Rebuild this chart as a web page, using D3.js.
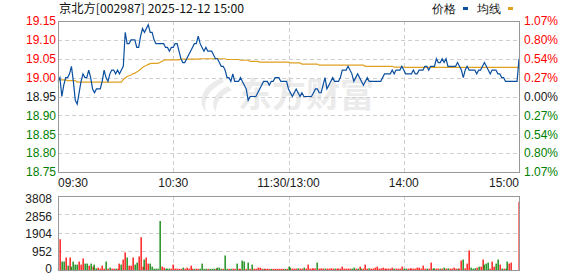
<!DOCTYPE html>
<html>
<head>
<meta charset="utf-8">
<title>京北方 分时图</title>
<script src="https://d3js.org/d3.v7.min.js"></script>
<style>
  body { margin: 0; background: #fff; }
  svg text { font-family: "Liberation Sans", Arial, sans-serif; font-size: 12px; }
</style>
</head>
<body>
<svg width="578" height="276"></svg>
<script>
var title = "京北方[002987] 2025-12-12 15:00";
var preClose = 18.95;

var priceTicks = [19.15, 19.10, 19.05, 19.00, 18.95, 18.90, 18.85, 18.80, 18.75];
var pctLabels = ["1.07%", "0.80%", "0.54%", "0.27%", "0.00%", "0.27%", "0.54%", "0.80%", "1.07%"];
var volTicks = [0, 952, 1904, 2856, 3808];
var timeLabels = ["09:30", "10:30", "11:30/13:00", "14:00", "15:00"];
var timeIndex = [0, 60, 120, 180, 240];

// one value per minute, 09:30 .. 11:30, 13:01 .. 15:00
var price = [
  18.99,19.00,18.95,18.98,19.00,19.00,19.01,19.03,18.99,18.94, 18.93,18.96,18.99,19.01,19.00,19.00,19.02,19.00,18.97,18.96,
  18.97,18.97,18.97,18.99,19.02,19.00,18.99,19.01,19.02,19.02, 19.01,19.02,19.01,19.02,19.03,19.12,19.09,19.09,19.10,19.10,
  19.10,19.08,19.08,19.11,19.13,19.12,19.13,19.14,19.12,19.12, 19.10,19.09,19.09,19.09,19.09,19.09,19.08,19.08,19.07,19.08,
  19.08,19.09,19.09,19.07,19.05,19.04,19.04,19.05,19.06,19.07, 19.08,19.09,19.09,19.11,19.09,19.08,19.07,19.08,19.07,19.07,
  19.07,19.06,19.05,19.05,19.04,19.03,19.03,19.02,19.00,19.00, 18.99,19.01,18.99,18.99,18.99,19.00,18.99,18.98,18.97,18.94,
  18.95,18.95,18.95,18.95,18.96,18.97,18.98,18.99,18.99,18.99, 18.98,18.99,18.99,19.00,19.00,19.00,18.99,18.99,18.99,18.99,
  18.97,18.96,18.95,18.96,18.97,18.96,18.95,18.96,18.95,18.95, 18.95,18.95,18.95,18.96,18.97,18.97,18.96,18.96,18.98,19.00,
  18.97,18.98,18.99,19.00,18.99,18.99,18.99,19.00,19.02,19.02, 19.02,19.03,19.02,19.01,18.99,19.00,19.01,19.00,18.99,18.98,
  18.99,19.00,18.99,18.99,18.99,18.99,18.99,18.99,18.99,19.00, 19.01,19.01,19.01,19.01,19.02,19.01,19.02,19.02,19.02,19.03,
  19.02,19.01,19.01,19.01,19.01,19.02,19.01,19.01,19.02,19.02, 19.02,19.03,19.03,19.02,19.03,19.03,19.03,19.05,19.04,19.04,
  19.05,19.04,19.05,19.03,19.03,19.03,19.03,19.03,19.04,19.03, 19.02,19.00,19.02,19.03,19.02,19.02,19.02,19.02,19.01,19.02,
  19.02,19.03,19.04,19.03,19.02,19.01,19.02,19.02,19.02,19.01, 19.01,19.00,19.00,18.99,18.99,18.99,18.99,18.99,18.99,18.99,
  19.05
];

var avgPrice = [
  18.996,18.994,18.994,18.994,18.994,18.992,18.992,18.992,18.992,18.992, 18.988,18.988,18.988,18.988,18.988,18.988,18.988,18.988,18.988,18.988,
  18.988,18.988,18.988,18.988,18.988,18.988,18.988,18.988,18.988,18.988, 18.988,18.988,18.988,18.988,18.995,18.999,19.003,19.005,19.007,19.010,
  19.012,19.015,19.018,19.022,19.027,19.030,19.032,19.035,19.037,19.038, 19.038,19.038,19.038,19.040,19.043,19.046,19.047,19.047,19.047,19.047,
  19.047,19.047,19.047,19.047,19.049,19.049,19.049,19.049,19.049,19.049, 19.049,19.049,19.049,19.049,19.050,19.050,19.050,19.050,19.050,19.050,
  19.050,19.050,19.050,19.050,19.050,19.050,19.050,19.050,19.048,19.048, 19.048,19.048,19.048,19.048,19.048,19.046,19.046,19.046,19.046,19.046,
  19.043,19.043,19.043,19.043,19.043,19.041,19.041,19.041,19.041,19.041, 19.041,19.041,19.041,19.041,19.041,19.041,19.041,19.041,19.041,19.041,
  19.041,19.039,19.039,19.039,19.039,19.039,19.039,19.036,19.036,19.036, 19.036,19.036,19.036,19.036,19.036,19.036,19.033,19.033,19.033,19.033,
  19.033,19.033,19.033,19.033,19.033,19.033,19.033,19.033,19.033,19.033, 19.033,19.033,19.033,19.033,19.033,19.033,19.033,19.033,19.033,19.033,
  19.030,19.030,19.030,19.030,19.030,19.030,19.030,19.030,19.030,19.030, 19.030,19.030,19.030,19.030,19.030,19.028,19.028,19.028,19.028,19.028,
  19.028,19.027,19.027,19.027,19.027,19.027,19.027,19.027,19.027,19.027, 19.027,19.027,19.027,19.027,19.027,19.027,19.027,19.027,19.027,19.027,
  19.027,19.027,19.027,19.027,19.027,19.027,19.027,19.027,19.027,19.027, 19.027,19.027,19.027,19.027,19.027,19.027,19.027,19.027,19.027,19.027,
  19.027,19.027,19.027,19.027,19.027,19.027,19.027,19.027,19.027,19.027, 19.027,19.027,19.027,19.027,19.027,19.027,19.027,19.027,19.027,19.027,
  19.027
];

var volume = [
  0,1551,388,388,600,176,600,123,388,229, 229,388,229,547,282,282,176,282,123,229,
  35,70,18,176,18,388,18,70,18,18, 18,18,282,229,494,864,600,176,176,600,
  229,335,653,1657,123,494,600,282,282,123, 18,18,18,2504,123,70,18,18,18,18,
  229,18,18,10,10,70,18,70,18,176, 18,10,18,10,18,282,10,10,10,10,
  10,18,10,70,70,10,10,705,10,10, 10,18,10,282,10,10,441,388,10,335,
  10,229,18,10,70,70,18,10,10,18, 10,10,10,10,10,10,10,10,10,10,
  123,70,20,20,20,35,20,20,70,20, 229,20,20,35,35,335,20,35,20,20,
  20,20,35,20,20,20,20,20,123,20, 20,20,20,20,70,20,20,123,20,20,
  229,20,35,20,20,70,123,20,35,70, 20,20,20,20,70,20,20,20,20,123,
  20,20,20,20,35,20,20,70,70,20, 176,20,20,20,335,20,35,20,20,20,
  20,70,20,35,20,20,70,20,20,20, 440,494,35,282,970,70,20,35,70,123,
  123,494,229,282,335,20,388,123,282,494, 229,20,20,20,388,282,335,0,0,0,
  3500
];

// 1 = price up that minute (red), 0 = down (green)
var volUp = [
  1,1,0,0,1,0,1,0,0,0, 0,1,1,1,0,0,1,0,1,0,
  0,1,1,1,1,0,1,0,1,1, 0,1,1,0,1,1,0,1,1,1,
  0,0,1,1,1,0,1,1,0,0, 0,0,0,0,1,1,0,0,0,1,
  1,1,1,1,1,0,1,1,1,1, 1,0,1,1,0,0,0,0,1,0,
  0,0,1,0,0,0,1,0,0,1, 0,1,1,0,1,1,0,0,1,0,
  1,0,1,1,1,1,1,0,1,1, 1,0,1,1,1,1,1,1,0,1,
  0,0,1,1,1,0,1,1,0,1, 1,1,1,1,1,0,1,1,1,0,
  1,1,1,1,0,1,1,1,1,1, 1,1,1,0,0,1,0,1,0,1,
  1,1,0,1,1,1,1,1,1,1, 1,1,1,1,1,0,1,1,1,1,
  0,0,1,1,1,1,1,1,1,1, 1,1,0,1,1,0,0,1,1,0,
  1,0,1,0,1,1,1,1,0,1, 1,0,1,1,1,0,0,0,1,0,
  1,1,0,0,0,1,1,1,0,0, 1,0,1,0,0,1,1,1,1,1,
  1
];

var red = "#ff0000", green = "#008000", dark = "#1a1a1a";
var gridColor = "#cfcfcf", borderColor = "#989898";

var svg = d3.select("svg");
var pLeft = 58, pRight = 519, pTop = 21, pBottom = 172;
var vTop = 196, vBottom = 270;

var x = d3.scaleLinear().domain([0, 240]).range([pLeft, pRight]);
var y = d3.scaleLinear().domain([18.75, 19.15]).range([pBottom, pTop]);
var yv = d3.scaleLinear().domain([0, 3808]).range([269, vTop]);
// volume tick labels sit a little below their grid lines
var yvLabel = d3.scaleLinear().domain([0, 3808]).range([269, 199]);

function tickColor(v) {
  if (Math.abs(v - preClose) < 1e-6) return dark;
  return v > preClose ? red : green;
}

// watermark
var wm = svg.append("g").attr("fill", "#ebebeb");
wm.append("path").attr("d", "M222,78 C204,84 196,100 206,112 C203,100 208,90 224,82 Z");
wm.append("path").attr("d", "M228,86 C214,92 210,104 216,112 C216,102 220,96 232,90 Z");
wm.append("text")
  .attr("x", 238).attr("y", 107)
  .style("font-family", "'Noto Sans CJK SC'")
  .style("font-size", "34px").style("font-weight", "bold")
  .text("东方财富");

function hGrid(ticks, scale) {
  svg.append("g").selectAll("line")
    .data(ticks)
    .enter().append("line")
    .attr("x1", pLeft).attr("x2", pRight)
    .attr("y1", function(d) { return Math.round(scale(d)) + 0.5; })
    .attr("y2", function(d) { return Math.round(scale(d)) + 0.5; })
    .attr("stroke", gridColor).attr("stroke-dasharray", "4,3");
}
function vGrid(y1, y2) {
  svg.append("g").selectAll("line")
    .data(timeIndex.slice(1, -1))
    .enter().append("line")
    .attr("x1", function(d) { return Math.round(x(d)) + 0.5; })
    .attr("x2", function(d) { return Math.round(x(d)) + 0.5; })
    .attr("y1", y1).attr("y2", y2)
    .attr("stroke", gridColor).attr("stroke-dasharray", "4,3");
}
hGrid(priceTicks.slice(1, -1), y);
vGrid(pTop, pBottom);
hGrid(volTicks.slice(1, -1), yv);
vGrid(vTop, vBottom);

// average line
svg.append("path")
  .datum(avgPrice)
  .attr("fill", "none")
  .attr("stroke", "#e0a020")
  .attr("stroke-width", 1.2)
  .attr("d", d3.line().x(function(d, i) { return x(i); }).y(function(d) { return y(d); }));

// price line
svg.append("path")
  .datum(price)
  .attr("fill", "none")
  .attr("stroke", "#0a4fa0")
  .attr("stroke-width", 1.2)
  .attr("d", d3.line().x(function(d, i) { return x(i); }).y(function(d) { return y(d); }));

// volume bars
var bars = svg.append("g");
volume.forEach(function(v, i) {
  if (v <= 0) return;
  var barTop = Math.min(yv(v), vBottom - 1);
  bars.append("rect")
    .attr("x", Math.round(x(i)) - 0.5)
    .attr("y", barTop)
    .attr("width", 1.3)
    .attr("height", vBottom - barTop)
    .attr("fill", volUp[i] ? red : green);
});

// borders
svg.append("rect")
  .attr("x", pLeft + 0.5).attr("y", pTop + 0.5)
  .attr("width", pRight - pLeft).attr("height", pBottom - pTop)
  .attr("fill", "none").attr("stroke", borderColor);
svg.append("rect")
  .attr("x", pLeft + 0.5).attr("y", vTop + 0.5)
  .attr("width", pRight - pLeft).attr("height", vBottom - vTop)
  .attr("fill", "none").attr("stroke", borderColor);

// left price labels
svg.append("g").selectAll("text")
  .data(priceTicks)
  .enter().append("text")
  .attr("x", 56)
  .attr("y", function(d) { return y(d); })
  .attr("dy", "0.36em")
  .attr("text-anchor", "end")
  .attr("fill", tickColor)
  .text(function(d) { return d.toFixed(2); });

// right percent labels
svg.append("g").selectAll("text")
  .data(pctLabels)
  .enter().append("text")
  .attr("x", 524)
  .attr("y", function(d, i) { return y(priceTicks[i]); })
  .attr("dy", "0.36em")
  .attr("fill", function(d, i) { return tickColor(priceTicks[i]); })
  .text(function(d) { return d; });

// time labels
svg.append("g").selectAll("text")
  .data(timeLabels)
  .enter().append("text")
  .attr("x", function(d, i) { return x(timeIndex[i]); })
  .attr("y", 187)
  .attr("text-anchor", function(d, i) { return i == 0 ? "start" : (i == timeLabels.length - 1 ? "end" : "middle"); })
  .attr("fill", dark)
  .text(function(d) { return d; });

// volume labels
svg.append("g").selectAll("text")
  .data(volTicks)
  .enter().append("text")
  .attr("x", 52)
  .attr("y", function(d) { return yvLabel(d); })
  .attr("dy", "0.34em")
  .attr("text-anchor", "end")
  .attr("fill", "#222")
  .text(function(d) { return d; });

// title
svg.append("text")
  .attr("x", 59).attr("y", 13)
  .attr("textLength", 185).attr("lengthAdjust", "spacingAndGlyphs")
  .style("font-family", "'Noto Sans CJK SC', sans-serif")
  .attr("fill", "#111")
  .text(title);

// legend
var lg = svg.append("g").style("font-family", "'Noto Sans CJK SC', sans-serif");
lg.append("text").attr("x", 432).attr("y", 13).attr("fill", "#111").text("价格");
lg.append("rect").attr("x", 463).attr("y", 7).attr("width", 5).attr("height", 3).attr("fill", "#0a4fa0");
lg.append("text").attr("x", 477).attr("y", 13).attr("fill", "#111").text("均线");
lg.append("rect").attr("x", 508).attr("y", 7).attr("width", 5).attr("height", 3).attr("fill", "#e0a020");
</script>
</body>
</html>
